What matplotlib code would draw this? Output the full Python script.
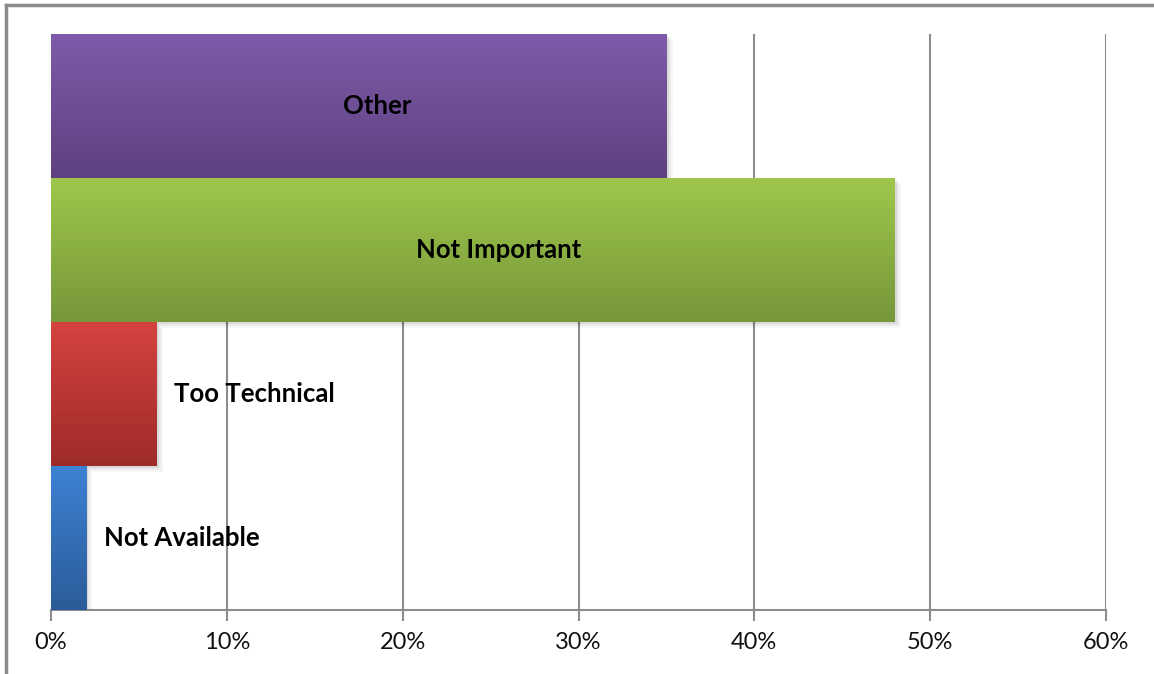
import numpy as np
import matplotlib
matplotlib.use('Agg')
import matplotlib.pyplot as plt
from matplotlib.colors import LinearSegmentedColormap
from matplotlib.patches import Rectangle
from matplotlib.ticker import FuncFormatter

# categories bottom to top
labels = ['Not Available', 'Too Technical', 'Not Important', 'Other']
values = [2, 6, 48, 35]
top_colors = ['#3D82D4', '#D5433F', '#9FC74B', '#7E5BA9']
bottom_colors = ['#2B5C99', '#9E2B28', '#76973A', '#5E4180']
ticks = [0, 10, 20, 30, 40, 50, 60]

plt.rcParams['font.family'] = ['Lato', 'DejaVu Sans']

fig = plt.figure(figsize=(11.54, 6.74), dpi=100)
ax = fig.add_axes([51/1154, 1-610/674, 1055/1154, 576/674])

ax.set_xlim(0, 60)
ax.set_ylim(-0.5, len(labels)-0.5)
ax.set_xticks(ticks)
ax.xaxis.set_major_formatter(FuncFormatter(lambda v, p: '%d%%' % v))
ax.set_yticks([])
ax.grid(axis='x', color='#8C8C8C', linewidth=1.5, zorder=0)
ax.set_axisbelow(True)
for s in ['top', 'right', 'left']:
    ax.spines[s].set_visible(False)
ax.spines['bottom'].set_color('#8C8C8C')
ax.spines['bottom'].set_linewidth(1.5)
ax.tick_params(axis='x', length=8, width=1.5, color='#8C8C8C', labelsize=17,
               pad=8, labelcolor='#111111')

grad = np.linspace(0, 1, 256).reshape(-1, 1)
for i, (lab, v) in enumerate(zip(labels, values)):
    y0, y1 = i - 0.5, i + 0.5
    # soft shadow
    for k, a in enumerate([0.08, 0.05, 0.03]):
        sh = Rectangle((0, y0 - 0.015*(k+1)), v + 0.12*(k+1), 1.0,
                       facecolor='black', alpha=a, linewidth=0, zorder=2+i*0.01)
        ax.add_patch(sh)
    bar = ax.barh(i, v, height=1.0, color='none', zorder=3+i*0.01)[0]
    cmap = LinearSegmentedColormap.from_list('g%d' % i, [top_colors[i], bottom_colors[i]])
    im = ax.imshow(grad, cmap=cmap, aspect='auto', extent=[0, v, y0, y1],
                   origin='upper', zorder=3+i*0.01)
    im.set_clip_path(bar)
    if v > 20:
        ax.text(v/2 + v*0.03, i, lab, ha='center', va='center', fontsize=18.5,
                fontweight='bold', color='black', zorder=10)
    else:
        ax.text(v + 1.0, i, lab, ha='left', va='center', fontsize=18.5,
                fontweight='bold', color='black', zorder=10)

ax.set_ylim(-0.5, len(labels)-0.5)
ax.set_xlim(0, 60)

# outer frame lines
fig.add_artist(plt.Line2D([6/1154, 6/1154], [0, 1-5/674], color='#8C8C8C', linewidth=2.5))
fig.add_artist(plt.Line2D([6/1154, 1], [1-5/674, 1-5/674], color='#8C8C8C', linewidth=2.5))

fig.savefig('out.png', dpi=100)
